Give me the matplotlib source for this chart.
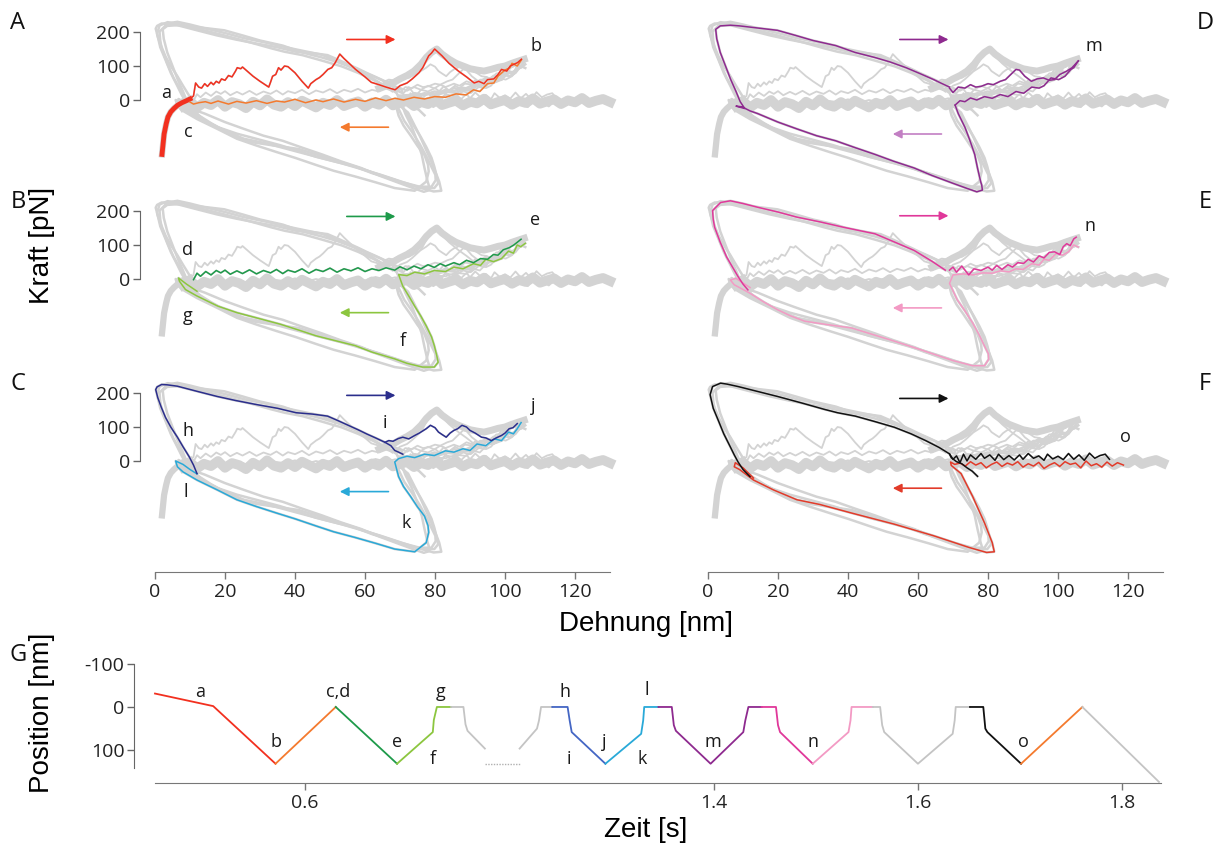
import matplotlib.pyplot as plt
import numpy as np

# ---------------- force-extension traces (extension nm, force pN) ----------------
# panel A: red stretch a->b (with the steep start), orange relax b->c
a_rise_x = [2.0, 2.3, 2.6, 3.2, 3.7, 4.5, 5.4, 6.5, 7.7, 9.0, 10.0]
a_rise_f = [-160, -130, -100, -70, -50, -35, -25, -15, -8, -2, 3]
a_fwd_x = [10, 11, 11.6, 12.5, 13.3, 14.2, 15, 16, 16.7, 17.5, 18.3, 19, 20, 21, 22, 23, 23.5, 24.5,
           25, 26, 28, 30, 32.5, 33, 33.6, 34.5, 35.3, 36, 37, 38, 40, 42, 43.8, 44.5, 46, 47, 48,
           49.4, 50.5, 51.5, 52.8, 54, 57.3, 60, 61.8, 64, 66, 68.6, 70, 72, 73.5, 75.4, 76.5, 78.2,
           79, 79.9, 82, 84, 86.7, 89, 91.2, 92.5, 94, 95, 96.8, 98, 99, 100.5, 101.5, 103.6, 104.7]
a_fwd_f = [3, 12, 50, 38, 35, 48, 40, 52, 45, 55, 50, 62, 58, 72, 68, 85, 95, 92, 97, 88, 70, 55,
           38, 52, 70, 75, 95, 88, 100, 98, 80, 55, 35, 48, 60, 66, 75, 90, 95, 110, 135, 122, 90,
           68, 52, 45, 38, 30, 42, 50, 62, 80, 95, 130, 138, 150, 130, 108, 85, 68, 50, 55, 48, 60,
           62, 75, 90, 85, 100, 110, 120]
a_ret_x = [104.7, 103.5, 102, 101.4, 100, 99.1, 98, 96.8, 95, 92.8, 91, 88.9, 86, 83, 79.9, 77, 74,
           71, 68.6, 66, 63, 60, 57.3, 54, 51, 48, 46, 43, 40, 37, 34.7, 32, 29, 26, 23.4, 21, 18,
           16, 14.4, 12.5, 11, 10]
a_ret_f = [118, 100, 108, 95, 88, 80, 70, 50, 48, 25, 30, 15, 18, 8, 10, 3, 8, 0, 5, -2, 6, -4, 2,
           -6, 3, -5, 0, -8, 2, -6, -3, -10, -2, -9, -4, -12, -3, -10, -5, -8, -12, -6]

# panel B: dark green d->e, light green e->f->g
b_fwd_x = [11, 12, 13, 14.5, 16, 17.5, 18.8, 20, 21.5, 23.4, 25, 27, 29, 31, 33, 34.7, 36.5, 38,
           40, 42, 44, 46, 48, 50, 52, 54, 56, 58, 60, 62, 64, 66, 68.5, 70, 72, 74, 76, 78, 79.8,
           81.5, 83, 85.4, 87, 89, 91, 93, 95, 96.7, 98, 99.5, 101.2, 102.5, 103.5, 104.6]
b_fwd_f = [-2, 17, 8, 22, 12, 25, 18, 26, 14, 24, 16, 27, 15, 25, 18, 28, 16, 26, 20, 30, 17, 28,
           22, 32, 20, 30, 24, 33, 22, 30, 25, 33, 26, 36, 27, 38, 30, 42, 34, 45, 38, 48, 42, 55,
           48, 60, 58, 72, 70, 86, 92, 100, 108, 117]
b_ret_x = [105.8, 104.5, 103.5, 102.4, 101, 99, 96.7, 94.5, 93, 91, 88, 85.4, 83, 79.8, 77, 74.2,
           72, 69.6, 70.8, 72.5, 74.2, 76, 77.5, 79, 79.8, 80.5, 80.9, 79.8, 76.4, 72, 68.5, 62,
           57.2, 51, 46, 41, 35.8, 30, 23.4, 18, 12, 8.7, 7, 6.7, 9, 12]
b_ret_f = [105, 95, 100, 76, 82, 60, 51, 58, 40, 45, 30, 35, 22, 25, 15, 20, 10, 13, -21, -50, -80,
           -110, -138, -170, -196, -225, -245, -259, -259, -248, -235, -215, -196, -180, -167,
           -150, -133, -117, -99, -80, -50, -31, -7, 3, -15, -36]

# panel C: navy h, i->j ; cyan j->k->l
c_top_x = [70.8, 69.6, 68.5, 67.4, 65.7, 63, 60.6, 58, 55, 52, 49.3, 45, 40.3, 35, 29, 23, 17.7,
           12, 6.4, 3.5, 1.9, 0.6, 0.2, 0.8, 1.8, 3, 4.5, 6.4, 8, 9.8, 11, 12]
c_top_f = [20, 26, 31, 45, 55, 68, 79, 92, 106, 120, 132, 138, 142, 155, 166, 178, 190, 205, 220,
           224, 225, 218, 210, 186, 158, 128, 100, 70, 42, 12, -12, -37]
c_saw_x = [65.7, 66.8, 68, 69.5, 70.8, 72.5, 74.2, 75.5, 77.5, 78.7, 80, 81, 82, 83.2, 84.3, 85.4,
           86.5, 87.7, 89, 90, 91.5, 93.3, 94.5, 96.1, 97.5, 99, 100, 101.2, 102.3, 103.5]
c_saw_f = [55, 60, 58, 66, 70, 65, 75, 82, 95, 105, 98, 85, 78, 70, 82, 90, 95, 105, 100, 90, 82,
           70, 68, 60, 68, 75, 82, 95, 98, 110]
c_ret_x = [104.6, 103.5, 102.4, 101, 99, 97, 94.5, 92, 90, 88, 85.4, 83, 79.8, 77, 74.2, 72, 69.6,
           68.5, 69.6, 71, 73, 75, 77, 78, 78.2, 77.5, 74.2, 68.5, 63, 57.2, 51, 46, 40, 34.7, 29,
           23.4, 18, 12, 8, 6.4, 5.9, 8, 10, 12]
c_ret_f = [113, 95, 80, 85, 60, 65, 45, 50, 31, 36, 26, 30, 16, 20, 10, 14, 7, -3, -46, -75, -104,
           -135, -162, -190, -210, -240, -267, -259, -242, -225, -208, -191, -170, -153, -134,
           -114, -86, -56, -32, -17, 0, -10, -25, -38]

# panel D: purple m
d_loop_x = [69, 66.5, 64.5, 60.5, 56.6, 52, 47.7, 42, 36.5, 30, 25, 19.8, 14, 9, 6.4, 3.5, 2.2,
            2.5, 3.5, 5, 6.5, 8, 9.2, 10.5, 8, 9.7, 12, 14.2, 20, 25.4, 31, 36.5, 42, 47.7, 53,
            58.9, 64, 70, 74, 76.8, 78.4, 78.2, 77.9, 77, 76.2, 74.8, 73.4, 71.5, 70.6]
d_loop_f = [38, 50, 60, 78, 95, 112, 125, 140, 160, 175, 190, 205, 212, 218, 220, 218, 208, 180,
            140, 100, 60, 25, -5, -25, -18, -20, -32, -40, -65, -85, -105, -120, -140, -160, -180,
            -200, -222, -245, -260, -270, -265, -250, -240, -200, -160, -118, -80, -40, -15]
d_saw_x = [69, 70, 71.5, 73.4, 75, 76.5, 78, 80, 81.5, 83.5, 85, 86.5, 88, 89, 90.5, 92.4, 94,
           95.8, 97.5, 99, 100.5, 102.5, 104, 105.8]
d_saw_f = [35, 22, 38, 35, 45, 38, 40, 48, 45, 55, 60, 75, 90, 88, 70, 55, 62, 65, 58, 60, 75, 85,
           95, 115]
d_ret_x = [105.8, 104.5, 103.7, 102, 100.2, 98, 96, 94.6, 92.5, 90.2, 88, 85.7, 83.5, 81.2, 79,
           76.8, 75, 73.4, 72, 70.6]
d_ret_f = [115, 95, 90, 70, 60, 65, 42, 35, 38, 20, 25, 10, 16, 5, 10, 0, 6, -5, -2, -15]

# panel E: magenta n, pink return
e_top_x = [67.8, 64, 58.9, 53, 47.7, 43, 38.8, 32, 25.4, 20, 14.2, 10, 6.4, 3.6, 1.3, 1.5, 1.9,
           3.5, 5.3, 7, 8.6, 10, 11.4]
e_top_f = [26, 52, 84, 110, 133, 143, 152, 168, 182, 197, 211, 222, 230, 225, 201, 175, 152, 108,
           65, 35, 7, -15, -32]
e_saw_x = [69, 70, 71, 72.5, 74.5, 76, 78, 80, 81.2, 82.5, 84, 85.7, 87, 88.5, 90.2, 91.5, 93,
           94.6, 96, 97.5, 99, 100.5, 101.5, 102.5, 103.5, 104.5, 105.2]
e_saw_f = [26, 35, 20, 38, 12, 30, 25, 35, 26, 40, 28, 42, 35, 48, 46, 58, 50, 68, 62, 78, 80, 72,
           95, 104, 98, 118, 123]
e_ret_x = [105.8, 104.5, 103, 101.3, 99.5, 97.5, 96, 94.6, 92.5, 90, 88, 86, 83.5, 81.2, 78.5,
           75.6, 73, 70, 69, 71.2, 73.5, 75.6, 77.5, 79, 80.1, 80.2, 79, 75.6, 70, 64.5, 59, 53.3,
           47, 41, 34, 27.6, 23.5, 19.8, 16, 12, 9.5, 7.5, 6.4, 8, 10, 12]
e_ret_f = [94, 100, 80, 70, 75, 55, 58, 41, 45, 28, 30, 21, 24, 17, 18, 12, 15, 12, -13, -61, -95,
           -129, -165, -197, -220, -236, -255, -255, -240, -221, -202, -183, -163, -144, -134,
           -124, -108, -90, -68, -42, -28, -17, -3, 2, -12, -25]

# panel F: black stretch, red relax (o)
f_top_x = [77, 75.5, 74, 72.5, 71, 69.5, 69, 66, 62.2, 58, 53.3, 48, 42.1, 37, 33.2, 27, 19.8,
           14, 8.6, 5.5, 3.6, 1.3, 0.6, 1.5, 3, 4.5, 6.4, 7.5, 8.6, 10, 12]
f_top_f = [-45, -30, -20, -8, -2, 10, 21, 40, 60, 80, 99, 115, 132, 142, 152, 170, 190, 205, 219,
           226, 229, 219, 195, 155, 118, 80, 41, 18, -3, -25, -46]
f_saw_x = [69, 70, 71, 72, 73, 74, 75, 76.5, 78, 79, 80.5, 82, 83, 84.5, 86, 87.5, 89, 90, 91.5,
           93, 94.5, 96, 97, 98.5, 100, 101.5, 103, 104.5, 106, 107.5, 109, 110.5, 112, 113.5,
           114.7]
f_saw_f = [21, 5, 15, -5, 20, 0, 18, 5, 22, 8, 18, 2, 20, 4, 16, 3, 18, 5, 22, 8, 15, 2, 20, 6,
           14, 4, 22, 5, 18, 2, 23, 8, 16, 20, 5]
f_ret_x = [118.7, 117, 115.5, 114, 112.5, 111, 109.5, 108, 106.5, 105, 103.5, 102, 100.5, 99,
           97.5, 96, 94.5, 93, 91.5, 90, 88.5, 87, 85.5, 84, 82.5, 81, 79.5, 78, 76.5, 75, 73.5,
           72, 70.5, 69.3, 69.5, 72.3, 75.6, 79, 81.2, 81.8, 79.6, 74.5, 64.5, 53.3, 41, 32, 25.4,
           18.7, 13, 9, 7.5, 7.8, 10, 13]
f_ret_f = [-12, -5, -15, -3, -18, -8, -14, 0, -20, -6, -10, -2, -16, -5, -12, -22, -4, -15, -8,
           -18, -2, -12, -6, -16, -3, -10, -20, -5, -12, -2, -15, -6, -10, -3, -13, -37, -104,
           -182, -240, -267, -269, -254, -220, -186, -153, -128, -114, -85, -56, -25, -17, -5,
           -20, -50]

# other (grey only) cycles: flat unfolded band and the bundle of refolded sawtooth humps
band_x = [8, 10, 12, 14, 16, 18, 20, 22, 24, 26, 28, 30, 32, 34, 36, 38, 40, 42, 44, 46, 48, 50,
          52, 54, 56, 58, 60, 62, 64, 66, 68, 70, 72, 74, 76, 78, 80, 82, 84, 86, 88, 90, 92, 94,
          96, 98, 100, 102, 104, 106, 108, 110, 112, 114, 116, 118, 120, 122, 124, 126, 128, 130]
band_f = [-18, -4, -22, -8, -15, 0, -20, -6, -12, -24, -5, -16, 2, -14, -20, -6, -18, -2, -12,
          -22, -8, -15, 0, -18, -10, -4, -20, -7, -14, 1, -16, -9, -3, -18, -6, -12, 3, -15, -8,
          -2, -16, -5, -10, 4, -13, -6, 0, -14, -3, -9, 5, -11, -4, 2, -12, -1, -7, 6, -9, -2, 3,
          -6]
hump_x = [64, 66, 68, 70, 72, 74, 76, 77.5, 79, 80.5, 82, 84, 86, 88, 90, 92, 94, 96, 98, 100,
          102, 104, 105.5]
hump_f = [35, 45, 50, 62, 72, 85, 105, 125, 140, 150, 135, 120, 108, 100, 92, 88, 85, 90, 96, 100,
          108, 115, 120]

# ---------------- trap position vs time (panel G) ----------------
g_time_left = [0.453, 0.510, 0.571, 0.630, 0.690, 0.725, 0.726, 0.729, 0.743, 0.755, 0.757, 0.759,
               0.776]
g_pos_left = [-31, -2, 131, 0, 131, 58, 30, 0, 0, 0, 40, 55, 96]
g_time_right = [1.210, 1.227, 1.229, 1.231, 1.242, 1.257, 1.259, 1.261, 1.294, 1.329, 1.331,
                1.332, 1.346, 1.359, 1.361, 1.363, 1.397, 1.429, 1.431, 1.434, 1.447, 1.461,
                1.463, 1.465, 1.497, 1.532, 1.534, 1.535, 1.556, 1.563, 1.565, 1.567, 1.600,
                1.634, 1.636, 1.637, 1.651, 1.664, 1.666, 1.668, 1.701, 1.761, 1.836]
g_pos_right = [96, 50, 31, 0, 0, 0, 31, 58, 131, 62, 31, 0, 0, 0, 42, 55, 131, 58, 31, 0, 0, 0,
               42, 58, 131, 58, 31, 0, 0, 0, 42, 58, 131, 62, 31, 0, 0, 0, 50, 58, 131, 0, 173]
g_ticks = [0.6, 1.4, 1.6, 1.8]
g_letters = ["a", "c,d", "g", "h", "l", "b", "e", "j", "m", "n", "o", "f", "i", "k"]
g_letter_t = [0.497, 0.632, 0.733, 1.254, 1.334, 0.571, 0.690, 1.293, 1.399, 1.497, 1.703,
              0.725, 1.258, 1.330]
g_letter_p = [-35, -35, -35, -35, -39, 80, 80, 80, 80, 80, 80, 120, 120, 120]

# ---------------- colours ----------------
GRAY = "#d3d3d3"
RED = "#f2301f"
ORANGE = "#f47a2e"
GREEN = "#1e9a4a"
LGREEN = "#8cc63f"
NAVY = "#2b2e8c"
BLUE = "#4466c4"
CYAN = "#29a9d8"
PURPLE = "#8e2a8f"
LPURPLE = "#c27fc3"
MAGENTA = "#e0389a"
PINK = "#f39ac4"
BLACK = "#111111"
FRED = "#e23b2a"

plt.rcParams["font.family"] = ["Open Sans", "DejaVu Sans"]
plt.rcParams["axes.unicode_minus"] = False
LABEL_FONT = ["Liberation Sans", "DejaVu Sans"]

FIG_W, FIG_H = 1225, 847
fig = plt.figure(figsize=(FIG_W / 100, FIG_H / 100), dpi=100)


def rect(x0, y0, x1, y1):
    return [x0 / FIG_W, 1 - y1 / FIG_H, (x1 - x0) / FIG_W, (y1 - y0) / FIG_H]


PX_PN = 0.34
F_LO, F_HI = -326, 235
row_zero = [100, 279, 461]
col_left = [155, 708]
PX_NM = 3.5

gray_traces = [
    (band_x, band_f, 7), (hump_x, hump_f, 5), (a_rise_x, a_rise_f, 4.5),
    (a_fwd_x, a_fwd_f, 1.3), (a_ret_x, a_ret_f, 1.3), (b_fwd_x, b_fwd_f, 1.3),
    (b_ret_x, b_ret_f, 1.8), (c_top_x, c_top_f, 1.8), (c_saw_x, c_saw_f, 1.3),
    (c_ret_x, c_ret_f, 1.8), (d_loop_x, d_loop_f, 1.8), (d_saw_x, d_saw_f, 1.3),
    (d_ret_x, d_ret_f, 1.3), (e_top_x, e_top_f, 1.8), (e_saw_x, e_saw_f, 1.3),
    (e_ret_x, e_ret_f, 1.8), (f_top_x, f_top_f, 1.8), (f_saw_x, f_saw_f, 1.3),
    (f_ret_x, f_ret_f, 1.8),
]

panels = [
    ("A", 0, 0, [(a_rise_x, a_rise_f, RED, 3.5), (a_ret_x, a_ret_f, ORANGE, 1.1),
                 (a_fwd_x, a_fwd_f, RED, 1.1)],
     RED, ORANGE, [("a", 3.2, 20), ("b", 109, 160), ("c", 9.4, -95)], 178, -80),
    ("B", 1, 0, [(b_ret_x, b_ret_f, LGREEN, 1.1), (b_fwd_x, b_fwd_f, GREEN, 1.1)],
     GREEN, LGREEN, [("d", 9.3, 85), ("e", 108.6, 173), ("g", 9.3, -109), ("f", 70.8, -182)],
     184, -99),
    ("C", 2, 0, [(c_ret_x, c_ret_f, CYAN, 1.1), (c_top_x, c_top_f, NAVY, 1.1),
                 (c_saw_x, c_saw_f, NAVY, 1.1)],
     NAVY, CYAN, [("h", 9.3, 89), ("i", 65.7, 113), ("j", 108, 161), ("l", 8.7, -90),
                  ("k", 71.9, -182)], 193, -90),
    ("D", 0, 1, [(d_loop_x, d_loop_f, PURPLE, 1.1), (d_ret_x, d_ret_f, PURPLE, 1.1),
                 (d_saw_x, d_saw_f, PURPLE, 1.1)],
     PURPLE, LPURPLE, [("m", 110.3, 160)], 178, -100),
    ("E", 1, 1, [(e_ret_x, e_ret_f, PINK, 1.1), (e_top_x, e_top_f, MAGENTA, 1.1),
                 (e_saw_x, e_saw_f, MAGENTA, 1.1)],
     MAGENTA, PINK, [("n", 109.2, 157)], 186, -85),
    ("F", 2, 1, [(f_ret_x, f_ret_f, FRED, 1.1), (f_top_x, f_top_f, BLACK, 1.1),
                 (f_saw_x, f_saw_f, BLACK, 1.1)],
     BLACK, FRED, [("o", 119.2, 70)], 184, -80),
]

for letter, row, col, colored, c_right, c_left, labels, y_right, y_left in panels:
    zero = row_zero[row]
    x0 = col_left[col]
    ax = fig.add_axes(rect(x0, zero - F_HI * PX_PN, x0 + 130 * PX_NM, zero - F_LO * PX_PN))
    ax.set_facecolor("none")
    ax.set_xlim(0, 130)
    ax.set_ylim(F_LO, F_HI)
    for x, f, lw in gray_traces:
        ax.plot(x, f, color=GRAY, lw=lw, solid_joinstyle="round", clip_on=False, zorder=1)
    for x, f, color, lw in colored:
        ax.plot(x, f, color=color, lw=lw, clip_on=False, zorder=3)
    ax.annotate("", xy=(69.5, y_right), xytext=(54, y_right),
                arrowprops=dict(arrowstyle="-|>", color=c_right, lw=1.2, mutation_scale=13))
    ax.annotate("", xy=(52, y_left), xytext=(67.5, y_left),
                arrowprops=dict(arrowstyle="-|>", color=c_left, lw=1.2, mutation_scale=13))
    for text, tx, ty in labels:
        ax.text(tx, ty, text, fontsize=13, ha="center", va="center", color="#1a1a1a", zorder=4)

    for side in ("top", "right", "left", "bottom"):
        ax.spines[side].set_visible(False)
    ax.tick_params(colors="#222222", labelsize=14, length=5, width=1, direction="out")
    if col == 0:
        ax.spines["left"].set_visible(True)
        ax.spines["left"].set_position(("outward", 11))
        ax.spines["left"].set_bounds(0, 200)
        ax.spines["left"].set_color("#666666")
        ax.set_yticks([0, 100, 200])
        ax.tick_params(axis="y", color="#666666", pad=2)
    else:
        ax.set_yticks([])
    if row == 2:
        ax.spines["bottom"].set_visible(True)
        ax.spines["bottom"].set_bounds(0, 130)
        ax.spines["bottom"].set_color("#777777")
        ax.set_xticks([0, 20, 40, 60, 80, 100, 120])
        ax.tick_params(axis="x", color="#777777", pad=3)
    else:
        ax.set_xticks([])

    lx = 18 if col == 0 else 1205
    fig.text(lx / FIG_W, 1 - (zero - 77) / FIG_H, letter, fontsize=17, ha="center",
             va="center", color="#111111")

fig.text(42 / FIG_W, 1 - 245 / FIG_H, "Kraft [pN]", family=LABEL_FONT, fontsize=20,
         rotation=90, ha="center", va="center")
fig.text(646 / FIG_W, 1 - 624 / FIG_H, "Dehnung [nm]", family=LABEL_FONT, fontsize=20,
         ha="center", va="center")

# ---------------- panel G with a cut time axis ----------------
T_CUT0, T_CUT1 = g_time_left[-1], g_time_right[0]
GAP = 0.034


def fwd(t):
    t = np.asarray(t, dtype=float)
    return np.where(t <= T_CUT0, t,
                    np.where(t >= T_CUT1, t - (T_CUT1 - T_CUT0) + GAP,
                             T_CUT0 + (t - T_CUT0) * GAP / (T_CUT1 - T_CUT0)))


def inv(u):
    u = np.asarray(u, dtype=float)
    return np.where(u <= T_CUT0, u,
                    np.where(u >= T_CUT0 + GAP, u + (T_CUT1 - T_CUT0) - GAP,
                             T_CUT0 + (u - T_CUT0) * (T_CUT1 - T_CUT0) / GAP))


g_color_spans = [
    (0.453, 0.571, RED), (0.571, 0.630, ORANGE), (0.630, 0.690, GREEN), (0.690, 0.743, LGREEN),
    (0.743, 0.776, "#c4c4c4"), (1.210, 1.242, "#c4c4c4"), (1.242, 1.294, BLUE),
    (1.294, 1.346, CYAN), (1.346, 1.447, PURPLE), (1.447, 1.497, MAGENTA), (1.497, 1.556, PINK),
    (1.556, 1.651, "#c4c4c4"), (1.651, 1.701, BLACK), (1.701, 1.761, ORANGE),
    (1.761, 1.836, "#c4c4c4"),
]

axg = fig.add_axes(rect(155, 655, 1161, 783))
axg.set_facecolor("none")
axg.set_xscale("function", functions=(fwd, inv))
axg.set_xlim(0.453, 1.838)
axg.set_ylim(175.5, -120)
for times, pos in ((g_time_left, g_pos_left), (g_time_right, g_pos_right)):
    t_arr = np.array(times)
    p_arr = np.array(pos)
    for t0, t1, color in g_color_spans:
        m = (t_arr >= t0 - 1e-9) & (t_arr <= t1 + 1e-9)
        if m.sum() >= 2:
            axg.plot(t_arr[m], p_arr[m], color=color, lw=1.3, clip_on=False)
axg.plot([T_CUT0, T_CUT1], [131, 131], color="#b0b0b0", lw=1, ls=(0, (1, 1)))
for text, tx, ty in zip(g_letters, g_letter_t, g_letter_p):
    axg.text(tx, ty, text, fontsize=13, ha="center", va="center", color="#1a1a1a")

for side in ("top", "right"):
    axg.spines[side].set_visible(False)
axg.spines["left"].set_position(("outward", 15))
axg.spines["left"].set_bounds(-100, 141)
axg.spines["left"].set_color("#666666")
axg.spines["bottom"].set_color("#777777")
axg.set_yticks([-100, 0, 100])
axg.set_xticks(g_ticks)
axg.set_xticklabels([f"{t:.1f}" for t in g_ticks])
axg.xaxis.set_minor_locator(plt.NullLocator())
axg.tick_params(colors="#222222", labelsize=14, length=5, width=1, direction="out")
axg.tick_params(axis="y", color="#666666", pad=2)
axg.tick_params(axis="x", color="#777777", pad=3)

fig.text(18 / FIG_W, 1 - 655 / FIG_H, "G", fontsize=17, ha="center", va="center",
         color="#111111")
fig.text(42 / FIG_W, 1 - 713 / FIG_H, "Position [nm]", family=LABEL_FONT, fontsize=20,
         rotation=90, ha="center", va="center")
fig.text(646 / FIG_W, 1 - 830 / FIG_H, "Zeit [s]", family=LABEL_FONT, fontsize=20,
         ha="center", va="center")

fig.savefig("out.png", dpi=100)
